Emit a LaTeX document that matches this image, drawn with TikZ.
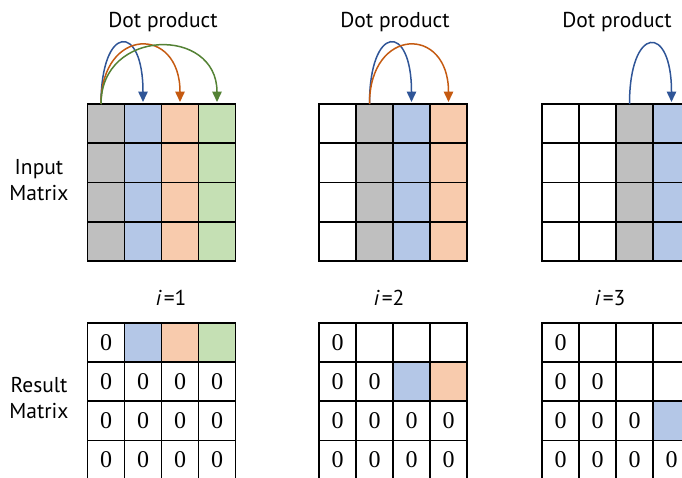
\documentclass[tikz,border=0pt]{standalone}
\usepackage{fontspec}
\setmainfont{PT Sans}
\newfontfamily\zerofont{Liberation Serif}
\usetikzlibrary{arrows.meta}
\definecolor{cgray}{HTML}{BFBFBF}
\definecolor{cblue}{HTML}{B4C7E7}
\definecolor{corange}{HTML}{F8CBAD}
\definecolor{cgreen}{HTML}{C5E0B4}
\definecolor{ablue}{HTML}{2F5597}
\definecolor{aorange}{HTML}{C55A11}
\definecolor{agreen}{HTML}{548235}
\tikzset{
  cell/.style={rectangle, draw=black, line width=1.7pt, minimum width=37pt,
    minimum height=39.25pt, inner sep=0pt, outer sep=0pt},
  zero/.style={font=\zerofont\fontsize{24}{24}\selectfont},
  lbl/.style={font=\fontsize{21.5}{26}\selectfont, inner sep=0pt, align=center},
  arr/.style={line width=1.5pt, -{Triangle[length=10.5pt,width=9.5pt]}}
}
\newcommand\drawinput[3]{%
  \foreach \f [count=\cc] in {#3} {%
    \foreach \rr in {1,2,3,4} {%
      \node[cell, fill=\f] (I#1-\rr-\cc) at ({#2+37*\cc-18.5},{104+39.25*\rr-19.625}) {};
    }}}
\newcommand\drawresult[3]{%
  \foreach \f/\t [count=\k from 0] in {#3} {%
    \pgfmathtruncatemacro\rr{int(\k/4)+1}%
    \pgfmathtruncatemacro\cc{mod(\k,4)+1}%
    \node[cell, zero, fill=\f] (R#1-\rr-\cc) at ({#2+37*\cc-18.5},{322.7+39.25*\rr-19.625}) {\raisebox{-2pt}{\t}};
  }}
\begin{document}
\begin{tikzpicture}[x=1pt,y=-1pt]
\useasboundingbox (0,0) rectangle (682,477);
\clip (0,0) rectangle (682,477);
% input matrices
\drawinput{1}{87.5}{cgray,cblue,corange,cgreen}
\drawinput{2}{319}{white,cgray,cblue,corange}
\drawinput{3}{542}{white,white,cgray,cblue}
% result matrices
\drawresult{1}{87.5}{white/0,cblue/,corange/,cgreen/,white/0,white/0,white/0,white/0,white/0,white/0,white/0,white/0,white/0,white/0,white/0,white/0}
\drawresult{2}{319}{white/0,white/,white/,white/,white/0,white/0,cblue/,corange/,white/0,white/0,white/0,white/0,white/0,white/0,white/0,white/0}
\drawresult{3}{542}{white/0,white/,white/,white/,white/0,white/0,white/,white/,white/0,white/0,white/0,cblue/,white/0,white/0,white/0,white/0}
% labels
\node[lbl, anchor=base] (dp1) at (163,27.7) {Dot product};
\node[lbl, anchor=base] (dp2) at (395,27.7) {Dot product};
\node[lbl, anchor=base] (dp3) at (617,27.7) {Dot product};
\node[lbl, anchor=base] (i1) at (171,305) {\textit{i}\hspace{2pt}=1};
\node[lbl, anchor=base] (i2) at (389,305) {\textit{i}\hspace{2pt}=2};
\node[lbl, anchor=base] (i3) at (610,305) {\textit{i}\hspace{2pt}=3};
\node[lbl] (inlbl) at (39,180) {Input\\Matrix};
\node[lbl] (reslbl) at (39,398) {Result\\Matrix};
% arrows
\draw[arr, ablue] ([xshift=-5pt]I1-1-1.north) .. controls +(0,-80) and +(0,-80) .. ([yshift=2pt]I1-1-2.north);
\draw[arr, aorange] ([xshift=-5pt]I1-1-1.north) .. controls +(0,-77) and +(0,-77) .. ([yshift=2pt]I1-1-3.north);
\draw[arr, agreen] ([xshift=-5pt]I1-1-1.north) .. controls +(0,-76) and +(0,-76) .. ([yshift=2pt]I1-1-4.north);
\draw[arr, ablue] ([xshift=-5pt]I2-1-2.north) .. controls +(0,-80) and +(0,-80) .. ([yshift=2pt]I2-1-3.north);
\draw[arr, aorange] ([xshift=-5pt]I2-1-2.north) .. controls +(0,-77) and +(0,-77) .. ([yshift=2pt]I2-1-4.north);
\draw[arr, ablue] ([xshift=-5pt]I3-1-3.north) .. controls +(0,-79) and +(0,-79) .. ([yshift=2pt]I3-1-4.north);
\end{tikzpicture}
\end{document}
